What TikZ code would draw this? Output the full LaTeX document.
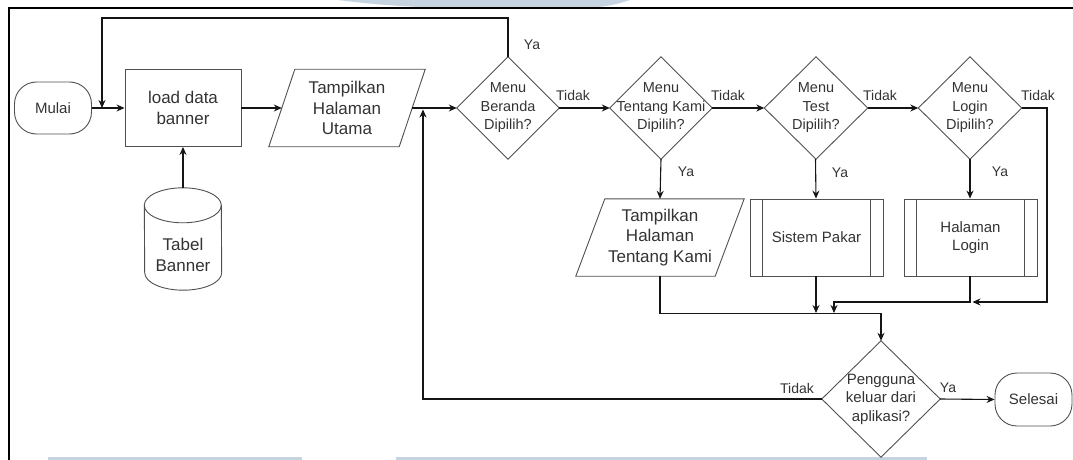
\documentclass[tikz,border=0pt]{standalone}
\usepackage{fontspec}
\setmainfont{Liberation Sans}
\usetikzlibrary{arrows.meta,calc}

\definecolor{ink}{HTML}{333333}
\definecolor{edgeink}{HTML}{151515}
\definecolor{outline}{HTML}{505050}
\definecolor{wmark}{HTML}{C6D3E0}

\tikzset{
  txt/.style={text=ink, align=center, inner sep=0pt},
  bigfont/.style={font=\fontsize{17}{20.5}\selectfont},
  midfont/.style={font=\fontsize{15}{18.5}\selectfont},
  qfont/.style={font=\fontsize{14.5}{18.5}\selectfont},
  lbl/.style={text=ink, font=\fontsize{14}{16}\selectfont, inner sep=0pt},
  shapeline/.style={draw=outline, line width=0.9pt},
  term/.style={txt, midfont, shapeline, rounded corners=22pt,
    minimum width=77pt, minimum height=52pt},
  procbox/.style={txt, shapeline, minimum height=77pt},
  carrier/.style={txt, minimum width=#1},
  flow/.style={draw=edgeink, line width=1.1pt, -{Stealth[length=8pt,width=7pt]}},
  wire/.style={draw=edgeink, line width=1.1pt}
}

\begin{document}
\begin{tikzpicture}[x=1pt, y=-1pt]
\useasboundingbox (0,0) rectangle (1073,460);

% faint marks of the page background
\fill[wmark] (338,0) .. controls (385,6) and (425,8) .. (470,8) -- (575,8)
  .. controls (605,8) and (618,4) .. (630,0) -- cycle;
\fill[wmark] (48,457) rectangle (302,460);
\fill[wmark] (396,457) rectangle (927,460);

% page frame
\draw[line width=1.4pt, black] (9,460) -- (9,8) -- (1073,8);

% ---------- nodes ----------
\node[term] (mulai) at (53,108) {Mulai};
\node[procbox, bigfont, minimum width=116pt] (load) at (183,108) {load data\\banner};

% database cylinder
\node[txt, minimum width=77pt, minimum height=102pt] (tabel) at (183,239) {};
\node[txt, bigfont] (tabeltxt) at (183,255) {Tabel\\Banner};
\draw[shapeline, fill=white]
  ($(tabel.north west)+(0,17.5)$) arc[start angle=180, end angle=0, x radius=38.5pt, y radius=17.5pt]
  -- ($(tabel.south east)+(0,-17.5)$) arc[start angle=0, end angle=-180, x radius=38.5pt, y radius=17.5pt]
  -- cycle;
\draw[shapeline]
  ($(tabel.north west)+(0,17.5)$) arc[start angle=180, end angle=360, x radius=38.5pt, y radius=17.5pt];
\node[txt, bigfont] at (tabeltxt) {Tabel\\Banner};

% input / output: main page
\node[txt, bigfont, minimum width=156pt, minimum height=77pt] (utama) at (347,108) {Tampilkan\\Halaman\\Utama};
\draw[shapeline] ($(utama.north west)+(26,0)$) -- (utama.north east)
  -- ($(utama.south east)+(-26,0)$) -- (utama.south west) -- cycle;
\coordinate (utamaL) at ($(utama.west)+(13,0)$);
\coordinate (utamaR) at ($(utama.east)+(-13,0)$);

% decisions
\node[txt, qfont, minimum width=102pt, minimum height=102pt] (beranda) at (508,108) {Menu\\Beranda\\Dipilih?};
\node[txt, qfont, minimum width=102pt, minimum height=102pt] (tentang) at (661,108) {Menu\\Tentang Kami\\Dipilih?};
\node[txt, qfont, minimum width=103pt, minimum height=102pt] (test) at (816,108) {Menu\\Test\\Dipilih?};
\node[txt, qfont, minimum width=103pt, minimum height=102pt] (login) at (970,108) {Menu\\Login\\Dipilih?};
\node[txt, midfont, minimum width=118pt, minimum height=116pt] (keluar) at (881,399) {Pengguna\\keluar dari\\aplikasi?};
\foreach \n in {beranda,tentang,test,login,keluar}
  \draw[shapeline] (\n.north) -- (\n.east) -- (\n.south) -- (\n.west) -- cycle;

% input / output: about page
\node[txt, bigfont, minimum width=168pt, minimum height=77pt] (tentangio) at (660,237.5) {Tampilkan\\Halaman\\Tentang Kami};
\draw[shapeline] ($(tentangio.north west)+(29,0)$) -- (tentangio.north east)
  -- ($(tentangio.south east)+(-29,0)$) -- (tentangio.south west) -- cycle;

% predefined processes
\node[procbox, midfont, minimum width=133pt] (pakar) at (816.5,237.5) {Sistem Pakar};
\node[procbox, midfont, minimum width=133pt] (hlogin) at (970.5,237.5) {Halaman\\Login};
\foreach \n in {pakar,hlogin}{
  \draw[shapeline] ($(\n.north west)+(13,0)$) -- ($(\n.south west)+(13,0)$);
  \draw[shapeline] ($(\n.north east)+(-13,0)$) -- ($(\n.south east)+(-13,0)$);
}

\node[term, minimum height=53pt] (selesai) at (1033.5,399.5) {Selesai};

% ---------- helper points ----------
\coordinate (loopTop) at (102,18);
\coordinate (rail) at (1047,302);
\coordinate (sideJoin) at (834,302);
\coordinate (joinY) at (0,313);
\coordinate (backUp) at (423,109.5);

% ---------- connectors ----------
\draw[flow] (mulai.east) -- (load.west);
\draw[flow] (load.east) -- (utamaL);
\draw[flow] (utamaR) -- (beranda.west);
\draw[flow] (tabel.north) -- (load.south);

\draw[flow] (beranda.north) |- (loopTop) -- (loopTop |- mulai.east);
\draw[flow] (beranda.east) -- (tentang.west);
\draw[flow] (tentang.east) -- (test.west);
\draw[flow] (test.east) -- (login.west);
\draw[flow] (login.east) -| (rail) -- ($(hlogin.south |- rail)+(2,0)$);

\draw[flow] (tentang.south) -- (tentangio.north);
\draw[flow] ([xshift=-0.5pt]test.south) -- ([xshift=-0.5pt]pakar.north);
\draw[flow] (login.south) -- ([xshift=-0.5pt]hlogin.north);

\draw[flow] (tentangio.south) |- ($(keluar.north)+(0,-27)$) -- (keluar.north);
\draw[flow] ([xshift=-0.5pt]pakar.south) -- ([xshift=-0.5pt]pakar.south |- joinY);
\draw[flow] ([xshift=-0.5pt]hlogin.south) |- (sideJoin) -- (sideJoin |- joinY);

\draw[flow] (keluar.west) -| (backUp);
\draw[flow] (keluar.east) -- (selesai.west);

% ---------- branch labels ----------
\node[lbl] (yaBeranda) at (532,45) {Ya};
\node[lbl] (tidakBeranda) at (573,95) {Tidak};
\node[lbl] (tidakTentang) at (728,95) {Tidak};
\node[lbl] (tidakTest) at (880,95) {Tidak};
\node[lbl] (tidakLogin) at (1038,95) {Tidak};
\node[lbl] (yaTentang) at (686,172) {Ya};
\node[lbl] (yaTest) at (840,173) {Ya};
\node[lbl] (yaLogin) at (1000,172) {Ya};
\node[lbl] (tidakKeluar) at (797,388) {Tidak};
\node[lbl] (yaKeluar) at (948,388) {Ya};
\end{tikzpicture}
\end{document}
